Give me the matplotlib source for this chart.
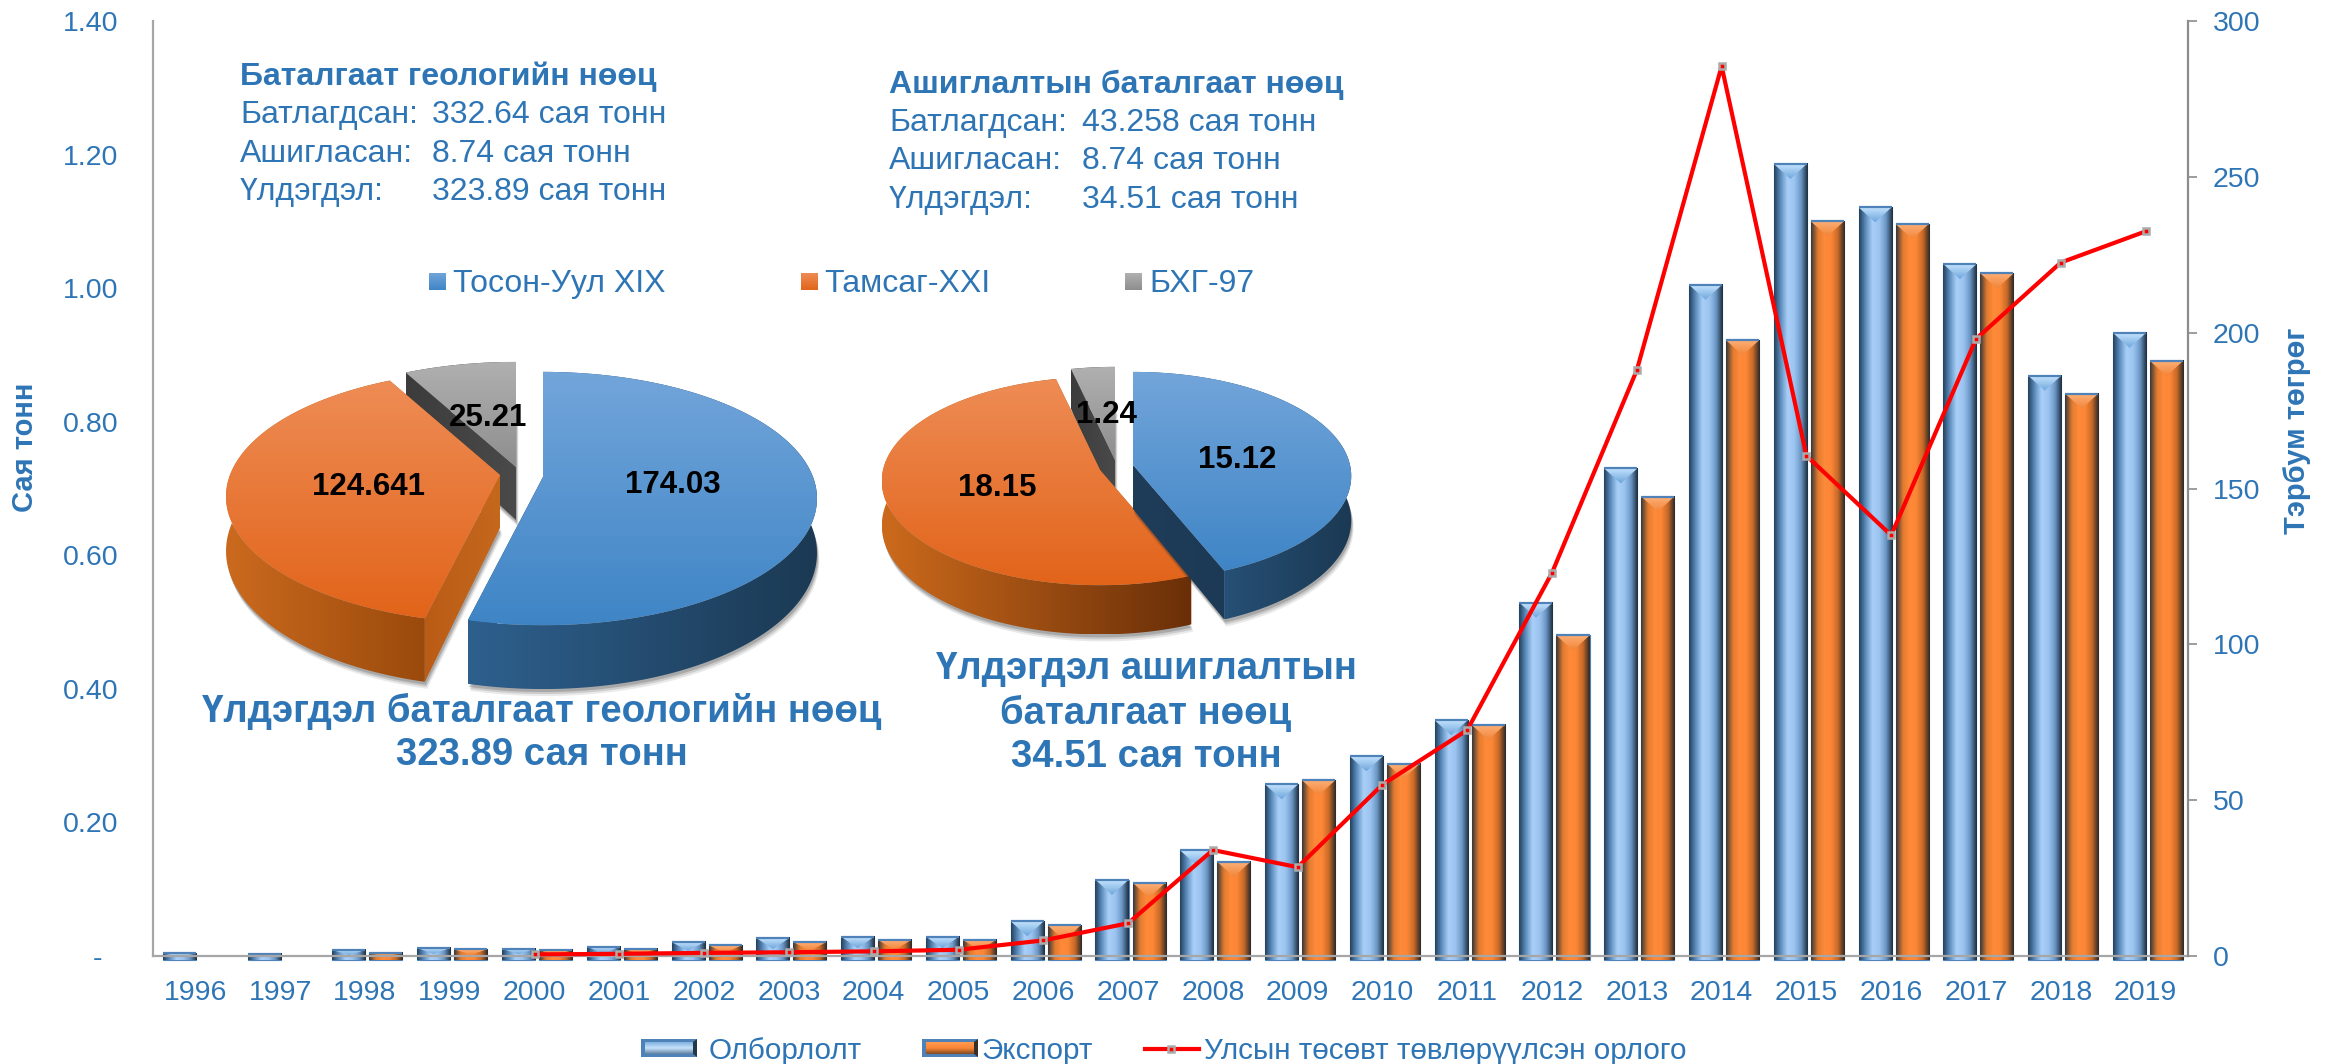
from __future__ import annotations

import matplotlib

matplotlib.use("Agg")
import matplotlib.pyplot as plt
import numpy as np
from matplotlib.colors import LinearSegmentedColormap
from matplotlib.patches import Polygon

years = list(range(1996, 2020))
production = [0.004, 0.003, 0.009, 0.012, 0.011, 0.014, 0.021, 0.027, 0.029, 0.029, 0.052, 0.114,
              0.158, 0.257, 0.299, 0.353, 0.529, 0.730, 1.005, 1.186, 1.121, 1.036, 0.869, 0.933]
export = [0.0, 0.0, 0.005, 0.010, 0.009, 0.011, 0.016, 0.021, 0.024, 0.024, 0.046, 0.110,
          0.141, 0.263, 0.288, 0.346, 0.480, 0.688, 0.922, 1.100, 1.096, 1.022, 0.842, 0.891]
revenue_years = list(range(2000, 2020))
revenue = [0.5, 0.7, 1.0, 1.2, 1.5, 2.0, 5.0, 10.5, 34.0, 28.5, 55.0, 72.5,
           123.0, 188.0, 285.5, 160.5, 135.0, 198.0, 222.5, 232.5]

left_ticks = [0.0, 0.2, 0.4, 0.6, 0.8, 1.0, 1.2, 1.4]
left_tick_labels = ["-  ", "0.20", "0.40", "0.60", "0.80", "1.00", "1.20", "1.40"]
right_ticks = [0, 50, 100, 150, 200, 250, 300]

geo_values = [174.03, 124.641, 25.21]
geo_labels = ["174.03", "124.641", "25.21"]
mine_values = [15.12, 18.15, 1.24]
mine_labels = ["15.12", "18.15", "1.24"]

TEXT_BLUE = "#2E75B6"
FONT = "Liberation Sans"
BLUE_BAR = ["#24425F", "#5F90C0", "#A9CFF8", "#9CC4F0", "#6C98C6", "#1D2E40"]
ORANGE_BAR = ["#3A3A3A", "#E27B2F", "#FF8A3A", "#FB8636", "#C76A29", "#2E2A28"]
BAR_BASE = -0.006
BEVEL = 0.0225

BLUE_TOP = ["#72A5DA", "#3F85C6"]
ORANGE_TOP = ["#EE8C55", "#E2641A"]
GRAY_TOP = ["#B0B0B0", "#8E8E8E"]


def gradient_fill(ax, pts, colors, horizontal=True, zorder=3):
    pts = np.asarray(pts)
    cmap = LinearSegmentedColormap.from_list("g", colors)
    ramp = np.linspace(0, 1, 128)
    data = ramp[None, :] if horizontal else ramp[:, None]
    xmin, ymin = pts.min(axis=0)
    xmax, ymax = pts.max(axis=0)
    im = ax.imshow(data, cmap=cmap, extent=(xmin, xmax, ymax, ymin), aspect="auto",
                   interpolation="bilinear", zorder=zorder)
    im.set_clip_path(Polygon(pts, closed=True, transform=ax.transData))


def draw_bars(ax, x, values, colors, top_light, top_dark, edge):
    bars = ax.bar(x, np.array(values) - BAR_BASE, width=0.39, bottom=BAR_BASE, color=colors[2],
                  edgecolor=edge, linewidth=0.8, zorder=2, clip_on=False)
    for bar, value in zip(bars, values):
        if value <= 0:
            bar.set_visible(False)
            continue
        x0, x1 = bar.get_x(), bar.get_x() + bar.get_width()
        top, base = bar.get_y() + bar.get_height(), bar.get_y()
        im = ax.imshow(np.linspace(0, 1, 64)[None, :], cmap=LinearSegmentedColormap.from_list("b", colors),
                       extent=(x0, x1, base, top), aspect="auto", zorder=2.1, clip_on=False)
        im.set_clip_on(False)
        bevel = min(BEVEL, (top - base) / 2)
        mid = (x0 + x1) / 2
        gradient_fill(ax, [(x0, top), (x1, top), (mid, top - bevel)], [top_dark, top_light], horizontal=False,
                      zorder=2.2)
        ax.plot([x0, x1], [top, top], color=edge, lw=1.6, zorder=2.3, solid_capstyle="butt")


def arc_points(apex, rx, ry, k, a0, a1, depth=0.0):
    ang = np.radians(np.linspace(a0, a1, 160))
    u, v = np.sin(ang), -np.cos(ang)
    w = 1 - k * v
    return np.column_stack([apex[0] + rx * u / w, apex[1] + ry * v / w + depth / w])


def draw_wedge(ax, apex, a0, a1, rx, ry, k, depth, top, rim, cut_a, cut_b, zorder):
    arc = arc_points(apex, rx, ry, k, a0, a1)
    low = arc_points(apex, rx, ry, k, a0, a1, depth)
    apex_low = (apex[0], apex[1] + depth)
    shadow = np.vstack([[apex_low], low])
    for off, alpha in ((7, 0.1), (5, 0.16), (3, 0.22)):
        ax.fill(shadow[:, 0] + off / 3, shadow[:, 1] + off, color="#303030", alpha=alpha, lw=0, zorder=zorder)
    gradient_fill(ax, [apex, arc[0], low[0], apex_low], cut_a, zorder=zorder + 0.1)
    gradient_fill(ax, [apex, arc[-1], low[-1], apex_low], cut_b, zorder=zorder + 0.1)
    gradient_fill(ax, np.vstack([arc, low[::-1]]), rim, zorder=zorder + 0.2)
    gradient_fill(ax, np.vstack([[apex], arc]), top, horizontal=False, zorder=zorder + 0.3)


def draw_pie(ax, values, apexes, rx, ry, k, depth, orange_rim):
    angles = np.cumsum([0] + list(values)) / sum(values) * 360
    navy = ["#1F3C59", "#1C3A56"]
    orange_cut = ["#BB5C16", "#C4681D"]
    dark = ["#3C3C3C", "#4A4A4A"]
    draw_wedge(ax, apexes[2], angles[2], angles[3], rx, ry, k, depth, GRAY_TOP, dark, dark, dark, 3)
    draw_wedge(ax, apexes[1], angles[1], angles[2], rx, ry, k, depth, ORANGE_TOP, orange_rim, orange_cut,
               orange_cut, 4)
    draw_wedge(ax, apexes[0], angles[0], angles[1], rx, ry, k, depth, BLUE_TOP, ["#2E608E", "#1B3953"], navy,
               navy, 5)


def draw_legend_bar(ax, x0, x1, y0, y1, side, ramp, edge):
    mid = (y0 + y1) / 2
    gradient_fill(ax, [(x0, y0), (x1, y0), (x1, y1), (x0, y1)], [edge, edge], zorder=6)
    gradient_fill(ax, [(x0 + 4, y0 + 3), (x1 - 4, y0 + 3), (x1 - 4, mid), (x0 + 4, mid)], ramp[:2], horizontal=False,
                  zorder=6.2)
    gradient_fill(ax, [(x0 + 4, mid), (x1 - 4, mid), (x1 - 4, y1 - 3), (x0 + 4, y1 - 3)], ramp[1:], horizontal=False,
                  zorder=6.2)
    gradient_fill(ax, [(x1, y0), (x1 - 4, y0 + 3), (x1 - 4, y1 - 3), (x1, y1)], [side, side], zorder=6.3)


def label(ax, x, y, text, size=23, weight="normal", color=TEXT_BLUE, ha="left", **kwargs):
    ax.text(x, y, text, fontsize=size, fontweight=weight, color=color, ha=ha, va="center", family=FONT,
            zorder=8, **kwargs)


def main() -> None:
    plt.rcParams["font.family"] = [FONT, "DejaVu Sans"]
    fig = plt.figure(figsize=(23.4, 10.64), dpi=100)
    ax = fig.add_axes([153 / 2340, 1 - 956 / 1064, (2188 - 153) / 2340, (956 - 21) / 1064])
    x = np.arange(len(years))

    draw_bars(ax, x - 0.19, production, BLUE_BAR, "#C9E7FF", "#6FA6DC", "#4E82B8")
    draw_bars(ax, x + 0.247, export, ORANGE_BAR, "#FFB27A", "#F0853A", "#4E82B8")

    ax.set_xlim(-0.5, len(years) - 0.5)
    ax.set_ylim(0, 1.4)
    ax.set_xticks(x, [str(y) for y in years])
    ax.set_yticks(left_ticks, left_tick_labels)
    ax.tick_params(axis="x", length=0, pad=17, labelsize=20.5, labelcolor=TEXT_BLUE)
    ax.tick_params(axis="y", length=0, pad=25, labelsize=20.5, labelcolor=TEXT_BLUE)
    for name in ("top", "right"):
        ax.spines[name].set_visible(False)
    for name in ("left", "bottom"):
        ax.spines[name].set_color("#A6A6A6")
        ax.spines[name].set_linewidth(1.6)

    ax2 = ax.twinx()
    ax2.set_ylim(0, 300)
    ax2.set_yticks(right_ticks)
    ax2.tick_params(axis="y", length=6.5, width=1.2, color="#8C8C8C", pad=11.5, labelsize=20.5, labelcolor=TEXT_BLUE)
    for name in ("top", "left", "bottom"):
        ax2.spines[name].set_visible(False)
    ax2.spines["right"].set_color("#8C8C8C")
    ax2.spines["right"].set_linewidth(1.6)
    ax2.plot([y - years[0] for y in revenue_years], revenue, color="#FF0000", lw=3, marker="s", ms=4.5,
             mfc="#FF0000", mec="#ABABAB", mew=1.8, zorder=5, clip_on=False)

    over = fig.add_axes([0, 0, 1, 1], zorder=5)
    over.patch.set_alpha(0)
    over.axis("off")

    draw_pie(over, geo_values, [(543, 477), (500, 475), (516, 467)], 270, 123, 0.17, 53, ["#CB6A1E", "#9A4A0C"])
    draw_pie(over, mine_values, [(1133, 465), (1100, 470), (1115, 460)], 217, 103, 0.106, 44, ["#CC6A1C", "#6A2F08"])

    for (px, py), text in zip([(673, 485), (368, 487), (488, 418)], geo_labels):
        label(over, px, py, text, size=22.5, weight="bold", color="black", ha="center")
    for (px, py), text in zip([(1237, 460), (997, 488), (1106, 415)], mine_labels):
        label(over, px, py, text, size=22.5, weight="bold", color="black", ha="center")

    label(over, 240, 77, "Баталгаат геологийн нөөц", weight="bold")
    for py, name, value in zip((115, 154, 192), ("Батлагдсан:", "Ашигласан:", "Үлдэгдэл:"),
                               ("332.64 сая тонн", "8.74 сая тонн", "323.89 сая тонн")):
        label(over, 240, py, name)
        label(over, 432, py, value)
    label(over, 889, 85, "Ашиглалтын баталгаат нөөц", weight="bold")
    for py, name, value in zip((123, 161, 200), ("Батлагдсан:", "Ашигласан:", "Үлдэгдэл:"),
                               ("43.258 сая тонн", "8.74 сая тонн", "34.51 сая тонн")):
        label(over, 889, py, name)
        label(over, 1082, py, value)

    for sx, tx, text, colors in ((429, 453, "Тосон-Уул XIX", BLUE_TOP), (801, 824, "Тамсаг-XXI", ORANGE_TOP),
                                 (1125, 1149, "БХГ-97", GRAY_TOP)):
        gradient_fill(over, [(sx, 273), (sx + 17, 273), (sx + 17, 290), (sx, 290)], colors, horizontal=False, zorder=6)
        label(over, tx, 284, text)

    label(over, 542, 711, "Үлдэгдэл баталгаат геологийн нөөц", size=27.6, weight="bold", ha="center")
    label(over, 542, 755, "323.89 сая тонн", size=27.6, weight="bold", ha="center")
    label(over, 1146, 669, "Үлдэгдэл ашиглалтын", size=27.6, weight="bold", ha="center")
    label(over, 1146, 713, "баталгаат нөөц", size=27.6, weight="bold", ha="center")
    label(over, 1146, 757, "34.51 сая тонн", size=27.6, weight="bold", ha="center")

    label(over, 25, 447, "Сая тонн", size=21, weight="bold", ha="center", rotation=90)
    label(over, 2297, 431, "Тэрбум төгрөг", size=21, weight="bold", ha="center", rotation=90)

    draw_legend_bar(over, 641, 697, 1039, 1057, "#24384C", ["#7FB0E0", "#C4E2FB", "#5E7F9F"], "#4E82B8")
    label(over, 709, 1051, "Олборлолт", size=21.3)
    draw_legend_bar(over, 922, 978, 1039, 1057, "#3A3028", ["#FF9A50", "#FB8636", "#7D4A22"], "#4E82B8")
    label(over, 981, 1051, "Экспорт", size=21.3)
    over.plot([1145, 1199], [1049, 1049], color="#FF0000", lw=3, zorder=6)
    over.plot([1171], [1049], marker="s", ms=4.5, mfc="#FF0000", mec="#ABABAB", mew=1.8, zorder=7)
    label(over, 1204, 1051, "Улсын төсөвт төвлөрүүлсэн орлого", size=21.3)

    over.set_xlim(0, 2340)
    over.set_ylim(1064, 0)
    ax.set_xlim(-0.5, len(years) - 0.5)
    ax.set_ylim(0, 1.4)

    fig.savefig("out.png", dpi=100)


if __name__ == "__main__":
    main()
